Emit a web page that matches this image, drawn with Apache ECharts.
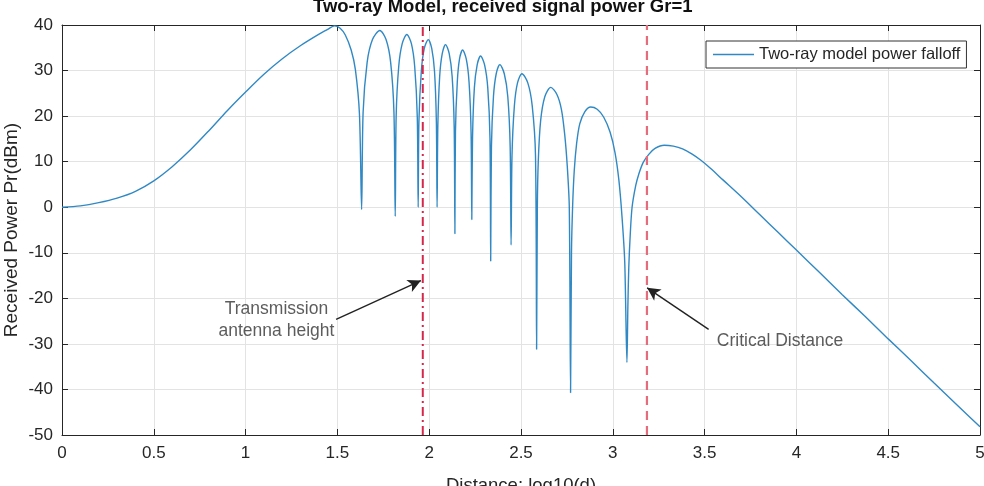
<!DOCTYPE html>
<html>
<head>
<meta charset="utf-8">
<script src="https://cdn.jsdelivr.net/npm/echarts@6/dist/echarts.min.js"></script>
<style>
  html, body { margin: 0; padding: 0; background: #fff; }
  #main { width: 984px; height: 486px; }
</style>
</head>
<body>
<div id="main"></div>
<script>
// values: [log10(d), Pr dBm]
const rampUp = [[0,0],[0.1,0.3],[0.2,1.0],[0.3,2.0],[0.4,3.5],[0.5,5.8],[0.6,8.9],[0.7,12.6],[0.8,16.8],[0.9,21.2],[1.0,25.3],[1.1,29.2],[1.2,32.6],[1.3,35.5],[1.4,38.0],[1.45,39.1],[1.484,39.8]];

const lobeRegion = [
  [1.515,39.3],[1.543,37.8],[1.575,34.5],[1.598,30.2],[1.620,20.5],[1.632,-0.5],
  [1.640,20.8],[1.662,31.8],[1.691,36.8],[1.731,38.8],[1.765,36.8],[1.790,31.8],[1.808,20.8],[1.815,-2],
  [1.820,19.9],[1.834,30.9],[1.853,35.9],[1.878,37.9],[1.903,35.9],[1.921,30.9],[1.935,19.9],[1.940,0],
  [1.944,18.8],[1.957,29.8],[1.973,34.8],[1.995,36.8],[2.014,34.8],[2.029,29.8],[2.039,18.8],[2.043,0],
  [2.047,17.7],[2.057,28.7],[2.071,33.7],[2.089,35.7],[2.109,33.7],[2.125,28.7],[2.136,17.7],[2.140,-5.8],
  [2.143,16.5],[2.153,27.5],[2.165,32.5],[2.182,34.5],[2.202,32.5],[2.217,27.5],[2.228,16.5],[2.232,-2.7],
  [2.236,15.2],[2.246,26.2],[2.261,31.2],[2.280,33.2],[2.302,31.2],[2.319,26.2],[2.331,15.2],[2.335,-11.8],
  [2.339,13.3],[2.350,24.3],[2.365,29.3],[2.385,31.3],[2.409,29.3],[2.428,24.3],[2.441,13.3],[2.446,-8.3],
  [2.451,11.3],[2.464,22.3],[2.481,27.3],[2.505,29.3],[2.537,27.3],[2.561,22.3],[2.579,11.3],[2.585,-31.2],
  [2.589,0],[2.594,10],[2.607,19],[2.630,24.3],[2.662,26.3],[2.695,24.8],[2.720,21.5],[2.738,16],[2.752,9],[2.763,0],[2.770,-40.7],
  [2.775,-10],[2.781,0],[2.790,8],[2.803,14],[2.820,18.3],[2.848,21.0],[2.880,22.0],[2.915,21.5],[2.950,19.8],[2.985,16.5],[3.012,12],[3.033,6],[3.050,-2],[3.065,-12],[3.077,-34.1]
];

const farField = [[3.082,-22],[3.087,-13.3],[3.095,-6],[3.105,0],[3.125,4.8],[3.141,7.2],[3.165,9.8],[3.196,11.6],[3.230,12.9],[3.280,13.6],[3.330,13.4],[3.380,12.8],[3.430,11.7],[3.480,10.3],[3.530,8.6],[3.600,6.0],[3.700,2.3],[3.800,-1.6],[3.900,-5.5],[4.0,-9.4],[4.125,-14.3],[4.25,-19.2],[4.375,-24.0],[4.5,-28.9],[4.625,-33.7],[4.75,-38.6],[4.875,-43.4],[5.0,-48.2]];

const powerCurve = rampUp.concat(lobeRegion, farField);

const xTicks = { min: 0, max: 5, step: 0.5 };
const yTicks = { min: -50, max: 40, step: 10 };

const txHeightX = 1.965;    // transmission antenna height
const critDistX = 3.186;    // critical distance

const notes = [
  { name: 'Transmission\nantenna height', pos: [1.168, -24.8], from: [1.493, -24.6], to: [1.955, -16.1] },
  { name: 'Critical Distance', pos: [3.911, -29.5], from: [3.522, -26.8], to: [3.187, -17.7] }
];

const seriesName = 'Two-ray model power falloff';
const fontFam = '"Liberation Sans", Arial, sans-serif';
const inkColor = '#262626';

var chart = echarts.init(document.getElementById('main'), null, { renderer: 'canvas' });

function boxAxis(pos, isX, ticks, showLabel) {
  return {
    type: 'value',
    position: pos,
    min: ticks.min,
    max: ticks.max,
    interval: ticks.step,
    axisLine: { show: true, onZero: false, lineStyle: { color: inkColor, width: 1 } },
    axisTick: { show: true, inside: true, length: 6, lineStyle: { color: inkColor } },
    axisLabel: {
      show: showLabel,
      color: inkColor,
      fontFamily: fontFam,
      fontSize: 17,
      margin: isX ? 10 : 9
    },
    splitLine: { show: showLabel, lineStyle: { color: '#e3e3e3', width: 1 } }
  };
}

var xMain = boxAxis('bottom', true, xTicks, true);
xMain.name = 'Distance: log10(d)';
xMain.nameLocation = 'middle';
xMain.nameGap = 41;
xMain.nameMoveOverlap = false;
xMain.nameTextStyle = { color: inkColor, fontFamily: fontFam, fontSize: 18.5 };

var yMain = boxAxis('left', false, yTicks, true);
yMain.name = 'Received Power Pr(dBm)';
yMain.nameLocation = 'middle';
yMain.nameRotate = 90;
yMain.nameGap = 41;
yMain.nameMoveOverlap = false;
yMain.nameTextStyle = { color: inkColor, fontFamily: fontFam, fontSize: 19 };

var option = {
  animation: false,
  backgroundColor: '#fff',
  title: {
    text: 'Two-ray Model, received signal power Gr=1',
    left: 313,
    top: -3,
    padding: 0,
    textStyle: { fontFamily: fontFam, fontSize: 18.5, fontWeight: 'bold', color: '#111' }
  },
  legend: {
    data: [seriesName],
    left: 706,
    top: 41,
    padding: [5, 6, 5, 7],
    icon: 'rect',
    itemWidth: 41,
    itemHeight: 1.6,
    borderColor: '#333',
    borderWidth: 1,
    borderRadius: 0,
    backgroundColor: '#fff',
    textStyle: { fontFamily: fontFam, fontSize: 16.5, color: inkColor }
  },
  grid: { left: 62, right: 4, top: 25, bottom: 51, containLabel: false, outerBoundsMode: 'none' },
  xAxis: [xMain, boxAxis('top', true, xTicks, false)],
  yAxis: [yMain, boxAxis('right', false, yTicks, false)],
  series: [
    {
      name: seriesName,
      type: 'line',
      data: powerCurve,
      symbol: 'none',
      smooth: 0.3,
      lineStyle: { color: '#3089c4', width: 1.4 },
      itemStyle: { color: '#3089c4' },
      z: 3
    },
    {
      name: 'txHeight',
      type: 'line',
      data: [[txHeightX, yTicks.min], [txHeightX, yTicks.max]],
      symbol: 'none',
      lineStyle: { color: '#d3284a', width: 2, type: [9, 4, 2, 4] },
      z: 4
    },
    {
      name: 'critDist',
      type: 'line',
      data: [[critDistX, yTicks.min], [critDistX, yTicks.max]],
      symbol: 'none',
      lineStyle: { color: '#e56b7d', width: 2.2, type: [9, 6] },
      z: 4,
      markLine: {
        silent: true,
        symbol: ['none', 'arrow'],
        symbolSize: [10, 13],
        label: { show: false },
        lineStyle: { color: '#222', width: 1.4, type: 'solid' },
        data: notes.map(function (n) {
          return [{ coord: n.from }, { coord: n.to }];
        })
      }
    },
    {
      name: 'notes',
      type: 'scatter',
      data: notes.map(function (n) { return { name: n.name, value: n.pos }; }),
      symbolSize: 1,
      itemStyle: { color: 'rgba(0,0,0,0)' },
      label: {
        show: true,
        position: 'inside',
        formatter: function (p) { return p.name; },
        align: 'center',
        verticalAlign: 'middle',
        lineHeight: 22,
        color: '#333',
        fontFamily: fontFam,
        fontSize: 17.5
      },
      labelLayout: { hideOverlap: false },
      z: 5
    }
  ]
};

chart.setOption(option);
</script>
</body>
</html>
